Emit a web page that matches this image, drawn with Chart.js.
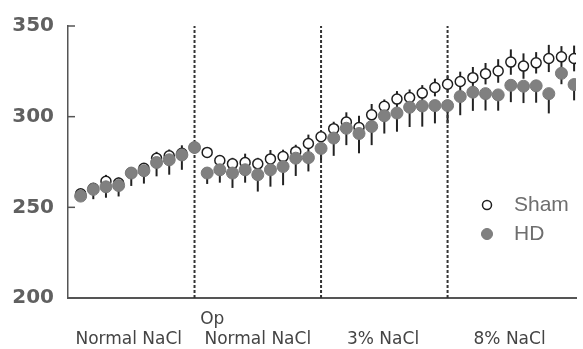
<!DOCTYPE html>
<html>
<head>
<meta charset="utf-8">
<script src="https://cdn.jsdelivr.net/npm/chart.js@4.4.1/dist/chart.umd.min.js"></script>
<style>
  html, body { margin: 0; padding: 0; background: #fff; }
  #wrap { width: 583px; height: 349px; }
</style>
</head>
<body>
<div id="wrap"><canvas id="weightChart" width="583" height="349"></canvas></div>
<script>
// day index of each measurement
const days = [0, 1, 2, 3, 4, 5, 6, 7, 8, 9,
              10, 11, 12, 13, 14, 15, 16, 17, 18, 19,
              20, 21, 22, 23, 24, 25, 26, 27, 28, 29,
              30, 31, 32, 33, 34, 35, 36, 37, 38, 39];

const shamMean = [257.5, 260.5, 264.4, 263.4, 269.0, 271.5, 277.1, 278.4, 279.8, 283.0,
                  280.3, 275.8, 274.0, 274.7, 274.0, 276.7, 278.0, 280.7, 285.2, 288.9,
                  293.4, 297.0, 294.0, 301.0, 305.7, 309.7, 310.6, 313.0, 316.1, 317.9,
                  319.4, 321.5, 323.7, 325.2, 330.1, 327.9, 329.7, 332.1, 333.0, 332.1];
const shamSem = [1.6, 1.6, 3.5, 3.0, 2.2, 2.7, 3.5, 3.5, 4.4, 2.2,
                 2.2, 2.7, 3.3, 4.9, 3.3, 4.9, 3.8, 3.8, 4.9, 3.3,
                 3.8, 5.4, 6.5, 6.0, 3.8, 4.4, 4.4, 4.4, 4.9, 4.4,
                 5.4, 5.9, 5.9, 6.5, 7.0, 7.0, 5.9, 7.5, 5.9, 7.1];

const hdMean = [256.2, 259.9, 261.3, 262.0, 268.9, 270.2, 274.7, 276.2, 278.9, 283.0,
                268.9, 270.7, 268.9, 270.7, 268.0, 270.7, 272.5, 277.1, 277.4, 282.5,
                288.2, 293.6, 290.7, 294.6, 300.5, 302.0, 305.2, 305.9, 306.1, 306.1,
                311.1, 313.5, 312.7, 312.0, 317.3, 316.8, 317.0, 312.7, 323.9, 317.7];
const hdSem = [1.6, 5.4, 6.0, 6.0, 7.1, 7.1, 7.6, 8.2, 8.2, 3.3,
               6.0, 7.1, 8.2, 7.1, 9.3, 9.3, 10.3, 9.8, 7.6, 6.5,
               9.8, 9.3, 10.9, 10.3, 9.8, 10.3, 10.9, 11.4, 9.8, 9.8,
               10.3, 10.3, 9.3, 8.7, 9.3, 9.3, 9.3, 10.9, 6.0, 8.7];

const seriesNames = ['Sham', 'HD'];
const phaseLabels = ['Normal NaCl', 'Normal NaCl', '3% NaCl', '8% NaCl'];
const phaseTicks = [3.8, 14, 23.9, 33.9];
const opLabel = 'Op';
const opTick = 10.4;
const phaseBreaks = [9, 19, 29];
const yTicks = [200, 250, 300, 350];

const pts = (ys) => days.map((d, i) => ({x: d, y: ys[i]}));

// vertical dashed separators between the phases
const breakSets = phaseBreaks.map(b => ({
    label: '',
    data: [{x: b, y: yTicks[0]}, {x: b, y: yTicks[yTicks.length - 1]}],
    showLine: true,
    borderColor: '#333',
    borderWidth: 2,
    borderDash: [3, 2],
    pointRadius: 0,
    order: 10
}));

// sem bars; HD only shows the lower half, Sham both
const errorBars = {
    id: 'errorBars',
    beforeDatasetsDraw(chart) {
        const {ctx, scales: {x, y}} = chart;
        ctx.save();
        ctx.strokeStyle = '#222';
        ctx.lineWidth = 2;
        chart.data.datasets.forEach(ds => {
            if (!ds.sem) return;
            ds.data.forEach((p, i) => {
                const px = x.getPixelForValue(p.x);
                const top = ds.barUp ? p.y + ds.sem[i] : p.y;
                ctx.beginPath();
                ctx.moveTo(px, y.getPixelForValue(p.y - ds.sem[i]));
                ctx.lineTo(px, y.getPixelForValue(top));
                ctx.stroke();
            });
        });
        ctx.restore();
    }
};

// small tick marks pointing into the plot on the y axis
const innerTicks = {
    id: 'innerTicks',
    afterDraw(chart) {
        const {ctx, scales: {y}} = chart;
        ctx.save();
        ctx.strokeStyle = '#555';
        ctx.lineWidth = 1.5;
        y.ticks.forEach(t => {
            const py = y.getPixelForValue(t.value);
            ctx.beginPath();
            ctx.moveTo(y.right, py);
            ctx.lineTo(y.right + 7, py);
            ctx.stroke();
        });
        ctx.restore();
    }
};

// legend sits inside the plot, lower right
const insideLegend = {
    id: 'insideLegend',
    afterDraw(chart) {
        const {ctx, chartArea} = chart;
        const x0 = chartArea.right - 89;
        const y0 = chartArea.top + 179;
        ctx.save();
        seriesNames.forEach((name, i) => {
            const ds = chart.data.datasets.find(d => d.label === name);
            const cy = y0 + i * 29;
            ctx.beginPath();
            ctx.arc(x0, cy, ds.legendRadius, 0, Math.PI * 2);
            ctx.fillStyle = ds.backgroundColor;
            ctx.fill();
            ctx.lineWidth = ds.borderWidth;
            ctx.strokeStyle = ds.borderColor;
            ctx.stroke();
            ctx.fillStyle = '#6e6e6e';
            ctx.font = '21px "Liberation Sans", Arial, sans-serif';
            ctx.textBaseline = 'middle';
            ctx.fillText(name, x0 + 27, cy);
        });
        ctx.restore();
    }
};

new Chart(document.getElementById('weightChart'), {
    type: 'scatter',
    data: {
        datasets: [
            {
                label: seriesNames[1],
                data: pts(hdMean),
                sem: hdSem,
                barUp: false,
                pointStyle: 'circle',
                pointRadius: 6,
                legendRadius: 5.5,
                backgroundColor: '#808080',
                borderColor: '#7a7a7a',
                borderWidth: 1,
                order: 1
            },
            {
                label: seriesNames[0],
                data: pts(shamMean),
                sem: shamSem,
                barUp: true,
                pointStyle: 'circle',
                pointRadius: 5,
                legendRadius: 4.5,
                backgroundColor: '#ffffff',
                borderColor: '#1e1e1e',
                borderWidth: 1.5,
                order: 2
            },
            ...breakSets
        ]
    },
    options: {
        responsive: false,
        animation: false,
        devicePixelRatio: 1,
        layout: {padding: {top: 22.5, right: 0, bottom: 0, left: 0}},
        plugins: {
            legend: {display: false},
            tooltip: {enabled: false}
        },
        scales: {
            x: {
                type: 'linear',
                min: -1,
                max: 39.15,
                grid: {display: false, drawTicks: false},
                border: {display: true, color: '#555', width: 2},
                afterBuildTicks: (scale) => {
                    scale.ticks = phaseTicks.map(v => ({value: v})).concat([{value: opTick}]);
                },
                afterFit: (scale) => { scale.height = 51; },
                ticks: {
                    autoSkip: false,
                    maxRotation: 0,
                    minRotation: 0,
                    padding: 11,
                    color: '#444',
                    font: {family: '"DejaVu Sans", sans-serif', size: 17, lineHeight: 1.2},
                    callback: (value) => {
                        if (value === opTick) return [opLabel, ''];
                        return ['', phaseLabels[phaseTicks.indexOf(value)]];
                    }
                }
            },
            y: {
                min: yTicks[0],
                max: yTicks[yTicks.length - 1],
                grid: {display: false, drawTicks: false},
                border: {display: true, color: '#555', width: 1.5},
                afterBuildTicks: (scale) => {
                    scale.ticks = yTicks.map(v => ({value: v}));
                },
                afterFit: (scale) => { scale.width = 68; },
                ticks: {
                    padding: 14,
                    color: '#606060',
                    font: {family: '"DejaVu Sans", sans-serif', size: 20, weight: 'bold'}
                }
            }
        }
    },
    plugins: [errorBars, innerTicks, insideLegend]
});
</script>
</body>
</html>
